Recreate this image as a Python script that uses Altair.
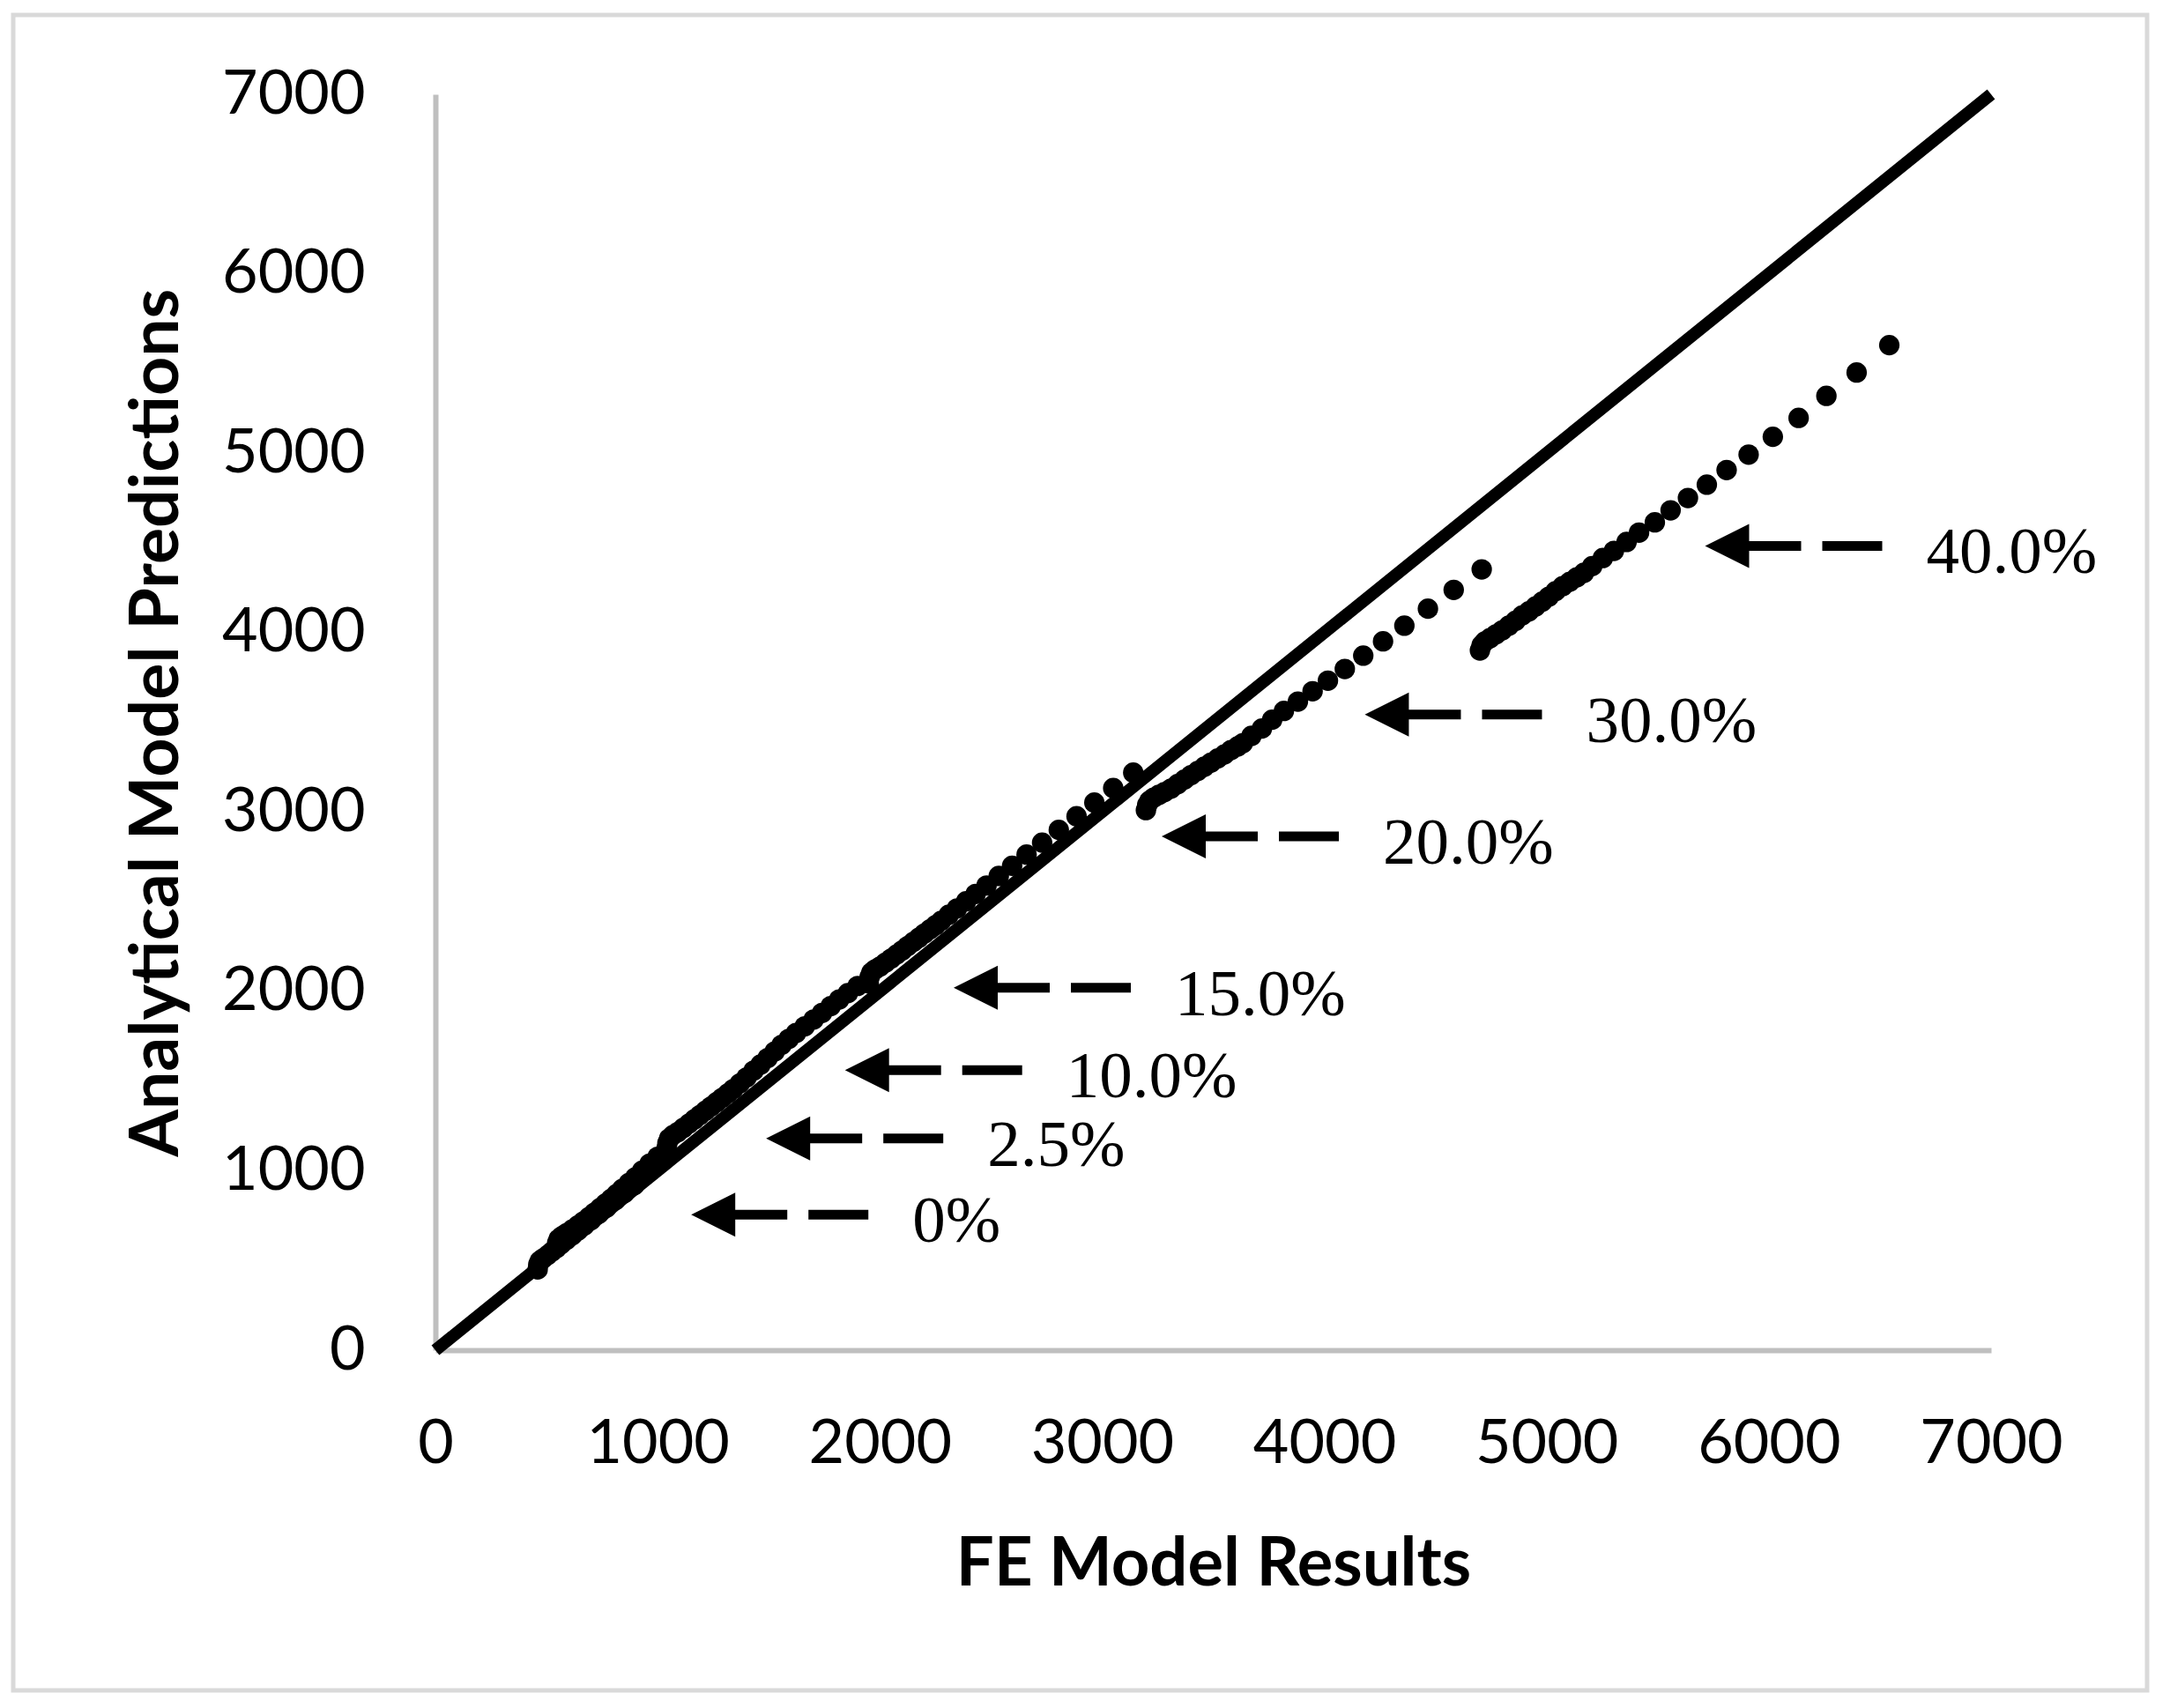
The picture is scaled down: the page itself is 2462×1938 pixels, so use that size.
import altair as alt
import pandas as pd

# ---------------- data ----------------
tick_values = [0, 1000, 2000, 3000, 4000, 5000, 6000, 7000]

diag_x = [0, 7000]
diag_y = [0, 7000]

a_x = [460, 463, 470, 485, 505, 525, 545, 565, 590, 615, 640, 670, 700, 735, 770, 810, 850, 895]
a_y = [450, 478, 498, 512, 530, 550, 570, 590, 615, 640, 665, 695, 725, 760, 795, 836, 876, 920]

b_x = [545, 548, 555, 570, 590, 615, 640, 665, 690, 715, 740, 765, 790, 815, 840, 870, 900, 930, 964, 1000]
b_y = [570, 598, 620, 636, 652, 672, 694, 717, 741, 766, 791, 817, 843, 870, 898, 931, 964, 1000, 1040, 1078]

c_x = [1040, 1044, 1052, 1068, 1090, 1115, 1140, 1165, 1190, 1215, 1240, 1265, 1290, 1315, 1340, 1370,
       1400, 1432, 1463, 1495, 1527, 1558, 1590, 1623, 1662, 1702, 1740, 1779, 1817, 1856, 1900]
c_y = [1125, 1155, 1180, 1198, 1215, 1238, 1262, 1286, 1310, 1334, 1358, 1382, 1406, 1430, 1455, 1487,
       1520, 1558, 1592, 1628, 1665, 1702, 1735, 1768, 1805, 1843, 1880, 1918, 1955, 1990, 2030]

d_x = [1950, 1954, 1962, 1978, 2000, 2025, 2050, 2075, 2100, 2125, 2150, 2175, 2200, 2225, 2250, 2276,
       2310, 2347, 2388, 2431, 2480, 2535, 2595, 2660, 2730, 2805, 2885, 2965, 3050, 3140]
d_y = [2045, 2080, 2105, 2122, 2138, 2160, 2182, 2205, 2228, 2252, 2275, 2298, 2322, 2345, 2368, 2393,
       2427, 2462, 2502, 2543, 2590, 2643, 2700, 2762, 2829, 2900, 2976, 3052, 3133, 3219]

e_x = [3197, 3203, 3213, 3232, 3255, 3280, 3310, 3340, 3370, 3400, 3430, 3460, 3490, 3520, 3550, 3580,
       3610, 3633, 3672, 3719, 3765, 3818, 3881, 3947, 4016, 4092, 4175, 4264, 4360, 4466, 4582, 4708]
e_y = [3010, 3040, 3062, 3080, 3095, 3110, 3130, 3155, 3180, 3205, 3228, 3252, 3275, 3298, 3320, 3345,
       3365, 3383, 3424, 3465, 3514, 3563, 3615, 3673, 3732, 3797, 3871, 3951, 4038, 4133, 4238, 4352]

f_x = [4700, 4708, 4722, 4745, 4772, 4800, 4830, 4860, 4890, 4920, 4950, 4980, 5010, 5040, 5072, 5104,
       5136, 5168, 5205, 5253, 5303, 5360, 5416, 5487, 5558, 5636, 5721, 5810, 5909, 6018, 6134, 6259,
       6395, 6542]
f_y = [3900, 3930, 3950, 3968, 3990, 4012, 4038, 4065, 4095, 4118, 4145, 4172, 4200, 4230, 4258, 4283,
       4308, 4333, 4370, 4415, 4455, 4505, 4557, 4614, 4681, 4750, 4824, 4906, 4992, 5091, 5196, 5319,
       5449, 5602]

ann_labels = ["40.0%", "30.0%", "20.0%", "15.0%", "10.0%", "2.5%", "0%"]
ann_tip_x = [5713, 4182, 3268, 2332, 1843, 1488, 1151]
ann_tip_y = [4483, 3543, 2864, 2020, 1561, 1180, 755]

# ---------------- layout constants ----------------
W, H = 1765, 1425
PX = W / 7000.0  # pixels per data unit on x

pts = pd.DataFrame({
    "x": a_x + b_x + c_x + d_x + e_x + f_x,
    "y": a_y + b_y + c_y + d_y + e_y + f_y,
})
diag = pd.DataFrame({"x": diag_x, "y": diag_y})
ann = pd.DataFrame({"label": ann_labels, "tx": ann_tip_x, "y": ann_tip_y})
ann["hx"] = ann["tx"] + 25 / PX
ann["s1"] = ann["tx"] + 40 / PX
ann["s2"] = ann["tx"] + 109 / PX
ann["d1"] = ann["tx"] + 133 / PX
ann["d2"] = ann["tx"] + 201 / PX
ann["lx"] = ann["tx"] + 251 / PX

FONT = "Lato"
scale = alt.Scale(domain=[0, 7000], nice=False, zero=False)

x_axis = alt.Axis(values=tick_values, format="d", grid=False, ticks=False, tickSize=0,
                  domainColor="#bfbfbf", domainWidth=6,
                  labelFont=FONT, labelFontSize=70, labelColor="black", labelPadding=72,
                  labelFlush=False, labelOverlap=False,
                  title="FE Model Results", titleFont=FONT, titleFontSize=76,
                  titleFontWeight="bold", titleColor="black",
                  titleX=W / 2, titleY=243, titleAlign="center", titleBaseline="middle")
y_axis = alt.Axis(values=tick_values, format="d", grid=False, ticks=False, tickSize=0,
                  domainColor="#bfbfbf", domainWidth=6,
                  labelFont=FONT, labelFontSize=70, labelColor="black", labelPadding=80,
                  labelFlush=False, labelOverlap=False,
                  title="Analytical Model Predictions", titleFont=FONT, titleFontSize=77,
                  titleFontWeight="bold", titleColor="black",
                  titleX=-316, titleY=H / 2, titleAngle=270, titleAlign="center",
                  titleBaseline="middle")

X = alt.X("x:Q", scale=scale, axis=x_axis)
Y = alt.Y("y:Q", scale=scale, axis=y_axis)

border = alt.Chart(pd.DataFrame({"k": [0]})).mark_rect(
    fillOpacity=0, stroke="#d9d9d9", strokeWidth=5
).encode(x=alt.value(-479), x2=alt.value(1942), y=alt.value(-90), y2=alt.value(1811))

points = alt.Chart(pts).mark_circle(size=540, color="black", opacity=1).encode(x=X, y=Y)

line = alt.Chart(diag).mark_line(color="black", strokeWidth=14, strokeCap="butt").encode(x=X, y=Y)

heads = alt.Chart(ann).mark_point(
    shape="M -1 0 L 1 -1 L 1 1 Z", size=2500, filled=True, color="black", opacity=1, strokeWidth=0
).encode(x=alt.X("hx:Q", scale=scale), y=alt.Y("y:Q", scale=scale))

shafts = alt.Chart(ann).mark_rule(color="black", strokeWidth=11, strokeCap="butt").encode(
    x=alt.X("s1:Q", scale=scale), x2="s2:Q", y=alt.Y("y:Q", scale=scale))

dashes = alt.Chart(ann).mark_rule(color="black", strokeWidth=11, strokeCap="butt").encode(
    x=alt.X("d1:Q", scale=scale), x2="d2:Q", y=alt.Y("y:Q", scale=scale))

labels = alt.Chart(ann).mark_text(
    align="left", baseline="middle", dy=8, font="Liberation Serif", fontSize=75, color="black"
).encode(x=alt.X("lx:Q", scale=scale), y=alt.Y("y:Q", scale=scale), text="label:N")

chart = alt.layer(border, points, line, heads, shafts, dashes, labels).properties(
    width=W, height=H,
    autosize=alt.AutoSizeParams(type="none"),
    padding={"left": 486, "top": 99, "right": 190, "bottom": 390},
    background="white",
).configure_view(stroke=None)

chart.save("out.html", embed_options={"renderer": "svg", "actions": False})
